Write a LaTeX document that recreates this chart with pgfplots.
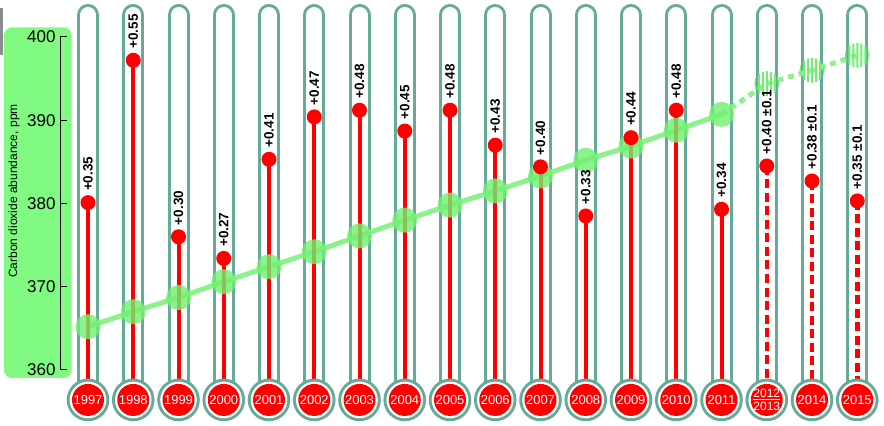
\documentclass[border=0pt]{standalone}
\usepackage{pgfplots}
\usepackage{pgfplotstable}
\pgfplotsset{compat=1.18}
\usepackage{fontspec}
\setmainfont{Liberation Sans}

\definecolor{tube}{RGB}{102,170,153}
\definecolor{panel}{RGB}{128,250,128}
\definecolor{co2}{RGB}{112,240,112}
\definecolor{co2line}{RGB}{140,242,140}
\definecolor{hot}{RGB}{255,0,0}

% striped dot for the forecast years
\pgfdeclareplotmark{stripes}{%
  \pgfscope
  \pgfpathcircle{\pgfpointorigin}{\pgfplotmarksize}
  \pgfusepath{clip}
  \foreach \k in {-3,...,3}{%
    \pgfpathrectangle{\pgfpoint{\k*4bp-1bp}{-\pgfplotmarksize}}{\pgfpoint{2bp}{2*\pgfplotmarksize}}}
  \pgfusepath{fill}
  \endpgfscope}

\newcommand{\twoyear}{\fontsize{12bp}{12bp}\selectfont\shortstack{\underline{2012}\\2013}}

% x = column, co2 = mean abundance (ppm), top = height of the red marker
\pgfplotstableread{
x  co2    top    rise
0  365.2  380.1  {+0.35}
1  367.0  397.2  {+0.55}
2  368.7  376.0  {+0.30}
3  370.6  373.4  {+0.27}
4  372.4  385.3  {+0.41}
5  374.2  390.4  {+0.47}
6  376.1  391.2  {+0.48}
7  378.0  388.7  {+0.45}
8  379.8  391.2  {+0.48}
9  381.5  387.0  {+0.43}
10 383.3  384.4  {+0.40}
11 385.2  378.5  {+0.33}
12 386.9  387.9  {+0.44}
13 388.8  391.2  {+0.48}
14 390.7  379.3  {+0.34}
15 394.4  384.5  {+0.40 ±0.1}
16 396.0  382.7  {+0.38 ±0.1}
17 397.8  380.3  {+0.35 ±0.1}
}\data

\begin{document}
\begin{tikzpicture}
\fill[black!45] (0,371bp) rectangle (2.7bp,418bp);
\fill[panel, rounded corners=8bp] (4bp,48bp) rectangle (71.7bp,398.7bp);

\begin{axis}[at={(0,0)}, anchor=south west, scale only axis,
  width=884bp, height=426bp,
  xmin=-1.9448, xmax=17.591, ymin=353.27, ymax=404.44,
  hide axis, clip=false]

% thermometer glass
\pgfplotsinvokeforeach{0,...,17}{
  \addplot[tube, line width=22bp, line cap=round] coordinates {(#1,356.4) (#1,402.64)};
}
\addplot[only marks, mark=*, mark size=21.3bp, mark options={draw opacity=0, fill=tube}]
  table[x=x, y expr=356.4] {\data};
\pgfplotsinvokeforeach{0,...,17}{
  \addplot[white, line width=16bp, line cap=round] coordinates {(#1,356.4) (#1,402.64)};
}
\addplot[only marks, mark=*, mark size=18.3bp, mark options={draw opacity=0, fill=white}]
  table[x=x, y expr=356.4] {\data};

% CO2 abundance
\addplot[co2line, line width=5bp, restrict x to domain=0:14]
  table[x=x, y=co2] {\data};
\addplot[co2line, line width=5bp, dash pattern=on 6bp off 5bp, restrict x to domain=14:17]
  table[x=x, y=co2] {\data};
\addplot[only marks, mark=*, mark size=12.5bp,
  mark options={draw opacity=0, fill=co2, fill opacity=0.8}, restrict x to domain=0:14]
  table[x=x, y=co2] {\data};
\addplot[only marks, mark=stripes, mark size=12.5bp,
  mark options={draw opacity=0, fill=co2}, restrict x to domain=15:17]
  table[x=x, y=co2] {\data};

% red columns
\addplot[draw=none, mark=none, restrict x to domain=0:14,
  error bars/.cd, y dir=minus, y explicit, error mark=none,
  error bar style={draw=hot, line width=4bp, solid}]
  table[x=x, y=top, y error expr=\thisrow{top}-356.4] {\data};
\addplot[draw=none, mark=none, restrict x to domain=15:17,
  error bars/.cd, y dir=minus, y explicit, error mark=none,
  error bar style={draw=hot, line width=4.5bp, dash pattern=on 9bp off 4.5bp}]
  table[x=x, y=top, y error expr=\thisrow{top}-356.4] {\data};

\addplot[only marks, mark=*, mark size=16bp, mark options={draw opacity=0, fill=hot}]
  table[x=x, y expr=356.4] {\data};

\addplot[only marks, mark=*, mark size=7.5bp, mark options={draw opacity=0, fill=hot},
  nodes near coords, point meta=explicit symbolic,
  every node near coord/.style={yshift=10bp, rotate=90, anchor=west, inner sep=1.5bp,
    text=black, font=\bfseries\fontsize{13.5bp}{13.5bp}\selectfont}]
  table[x=x, y=top, meta=rise] {\data};

% years in the bulbs
\addplot[draw=none, mark=none, nodes near coords, point meta=explicit symbolic,
  every node near coord/.style={anchor=center, inner sep=0pt, text=white,
    font=\fontsize{13bp}{13bp}\selectfont}]
  coordinates {
  (0,356.4) [1997] (1,356.4) [1998] (2,356.4) [1999] (3,356.4) [2000]
  (4,356.4) [2001] (5,356.4) [2002] (6,356.4) [2003] (7,356.4) [2004]
  (8,356.4) [2005] (9,356.4) [2006] (10,356.4) [2007] (11,356.4) [2008]
  (12,356.4) [2009] (13,356.4) [2010] (14,356.4) [2011] (15,356.4) [\twoyear]
  (16,356.4) [2014] (17,356.4) [2015]
  };
\end{axis}

\begin{axis}[at={(60bp,56bp)}, anchor=south west, scale only axis,
  width=10bp, height=333bp,
  xmin=0, xmax=1, ymin=360, ymax=400,
  axis x line=none, axis y line=left,
  y axis line style={-, black, line width=1bp},
  ytick={360,370,380,390,400}, tick align=inside, major tick length=7bp,
  tick style={black, line width=1bp},
  /pgf/number format/assume math mode=true,
  yticklabel style={font=\fontsize{17bp}{17bp}\selectfont, xshift=-1bp},
  ylabel={Carbon dioxide abundance, ppm},
  every axis y label/.style={at={(rel axis cs:0,0.5375)}, xshift=-46bp, rotate=90,
    anchor=center, font=\fontsize{12bp}{12bp}\selectfont}]
\end{axis}

\pgfresetboundingbox
\useasboundingbox (0,0) rectangle (884bp,426bp);
\end{tikzpicture}
\end{document}
